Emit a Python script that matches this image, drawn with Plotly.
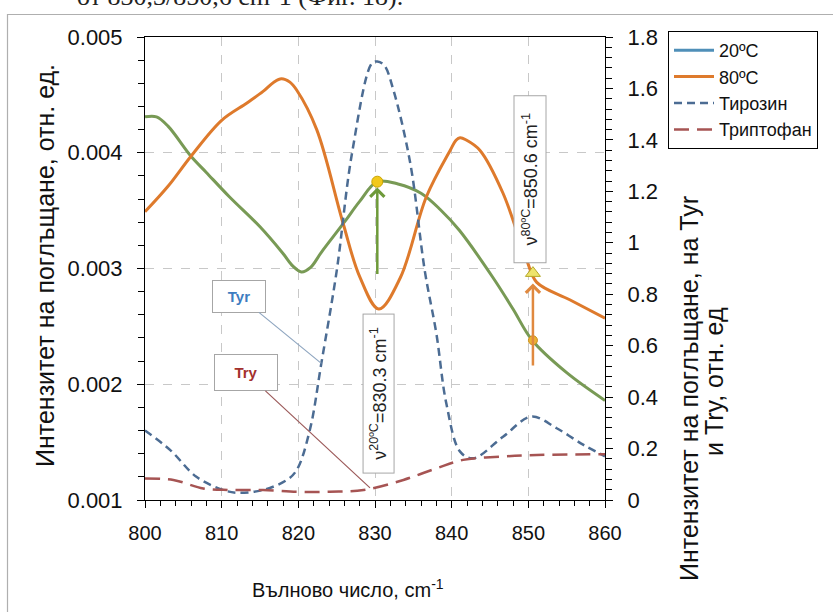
import plotly.graph_objects as go

# ---------------- data ----------------
wn_20 = [800, 801.5, 803, 806, 808, 811, 815, 818, 819.3, 820.4, 821.6, 823, 826, 828, 830.3, 833, 836, 838.5, 841, 845.4, 848, 850.5, 855, 860]
abs_20 = [0.00431, 0.00431, 0.00423, 0.00397, 0.00383, 0.00362, 0.00336, 0.00313, 0.00302, 0.00297, 0.00301, 0.00314, 0.00340, 0.00358, 0.00375, 0.00373, 0.00365, 0.00351, 0.00333, 0.00292, 0.00265, 0.00238, 0.00210, 0.00186]

wn_80 = [800, 803, 806, 810, 813.3, 815.4, 816.8, 817.8, 818.9, 819.8, 822.4, 825.8, 828, 830.5, 833.3, 836.7, 839.8, 840.6, 841.1, 841.9, 843.7, 846.7, 849.8, 851.1, 855.4, 860]
abs_80 = [0.00349, 0.00371, 0.00397, 0.00428, 0.00443, 0.00453, 0.00461, 0.00464, 0.00461, 0.00454, 0.00420, 0.00340, 0.00293, 0.00265, 0.00292, 0.00362, 0.00402, 0.00411, 0.00413, 0.00411, 0.00402, 0.00365, 0.00307, 0.00288, 0.00273, 0.00257]

wn_tyr = [800, 803.3, 806.7, 810.2, 812, 815.4, 818.5, 819.8, 821.5, 823, 825, 827, 829.6, 830.3, 831.2, 832.4, 834.6, 836.5, 838, 839.3, 841.1, 842.8, 846.7, 850.4, 853.7, 857.2, 860]
abs_tyr = [0.27, 0.194, 0.09, 0.039, 0.028, 0.039, 0.078, 0.117, 0.272, 0.531, 0.89, 1.348, 1.698, 1.705, 1.69, 1.594, 1.309, 0.89, 0.648, 0.376, 0.188, 0.162, 0.246, 0.324, 0.279, 0.214, 0.17]

wn_try = [800, 803.7, 807.6, 811, 815.4, 819.8, 824.1, 828.5, 833.7, 838, 841.5, 846.7, 851.1, 860]
abs_try = [0.084, 0.078, 0.045, 0.039, 0.039, 0.032, 0.032, 0.039, 0.078, 0.123, 0.156, 0.169, 0.175, 0.178]

peak20_wn = [830.3]
peak20_abs = [0.00375]
peak80_wn = [850.6]
peak80_abs = [0.00296]
green80_abs = [0.00238]

arrow20 = [0.00294, 0.00370]   # tail, tip
arrow80 = [0.00215, 0.00287]

label20_pos = [830.4, 0.00192]
label80_pos = [850.2, 0.00377]
tyr_tip = [823.0, 0.531]
try_tip = [829.35, 0.047]

series_names = ["20ºC", "80ºC", "Тирозин", "Триптофан"]

# ---------------- styles ----------------
C_GREEN = "#789A55"
C_ORANGE = "#DE7A2C"
C_BLUE = "#4C6C93"
C_RED = "#A65453"
C_LEG20 = "#4F8FB8"
FONT = "Liberation Sans, Arial, sans-serif"

W, H = 833, 612
L, R, T, B = 145, 228, 37, 112
PW, PH = W - L - R, H - T - B


def px(xp):
    return (xp - L) / PW


def py(yp):
    return (H - B - yp) / PH


fig = go.Figure()

fig.add_trace(go.Scatter(x=wn_20, y=abs_20, mode="lines", line=dict(color=C_GREEN, width=3, shape="spline"),
                         showlegend=False, yaxis="y"))
fig.add_trace(go.Scatter(x=[None], y=[None], mode="lines", line=dict(color=C_LEG20, width=3),
                         name=series_names[0], legendrank=1))
fig.add_trace(go.Scatter(x=wn_80, y=abs_80, mode="lines", line=dict(color=C_ORANGE, width=3, shape="spline"),
                         name=series_names[1], legendrank=2, yaxis="y"))
fig.add_trace(go.Scatter(x=wn_tyr, y=abs_tyr, mode="lines",
                         line=dict(color=C_BLUE, width=2.5, dash="8px,5px", shape="spline"),
                         name=series_names[2], legendrank=3, yaxis="y2"))
fig.add_trace(go.Scatter(x=wn_try, y=abs_try, mode="lines",
                         line=dict(color=C_RED, width=2.5, dash="15px,8px", shape="spline"),
                         name=series_names[3], legendrank=4, yaxis="y2"))

# markers
fig.add_trace(go.Scatter(x=peak20_wn, y=peak20_abs, mode="markers", showlegend=False,
                         marker=dict(color="#F2C81A", size=11, line=dict(color="#C9A400", width=1))))
fig.add_trace(go.Scatter(x=peak80_wn, y=green80_abs, mode="markers", showlegend=False,
                         marker=dict(color="#EBB233", size=9, line=dict(color="#C98F1A", width=1))))
fig.add_trace(go.Scatter(x=peak80_wn, y=peak80_abs, mode="markers", showlegend=False,
                         marker=dict(symbol="triangle-up", color="#EEE46C", size=13,
                                     line=dict(color="#B5A828", width=1))))

annotations = []
# vertical arrows
annotations.append(dict(xref="x", yref="y", axref="x", ayref="y", x=peak20_wn[0], y=arrow20[1],
                        ax=peak20_wn[0], ay=arrow20[0], text="", showarrow=True, arrowhead=4,
                        arrowsize=1.1, arrowwidth=2.5, arrowcolor="#6E9A3A"))
annotations.append(dict(xref="x", yref="y", axref="x", ayref="y", x=peak80_wn[0], y=arrow80[1],
                        ax=peak80_wn[0], ay=arrow80[0], text="", showarrow=True, arrowhead=4,
                        arrowsize=1.1, arrowwidth=2.5, arrowcolor="#E0893F"))
# rotated labels
annotations.append(dict(xref="x", yref="y", x=label20_pos[0], y=label20_pos[1],
                        text="ν<sup>20ºC</sup>=830.3 cm<sup>-1</sup>", textangle=-90, showarrow=False,
                        font=dict(family=FONT, size=18, color="#222"), bgcolor="white",
                        bordercolor="#A6A6A6", borderwidth=1, width=156, height=28))
annotations.append(dict(xref="x", yref="y", x=label80_pos[0], y=label80_pos[1],
                        text="ν<sup>80ºC</sup>=850.6 cm<sup>-1</sup>", textangle=-90, showarrow=False,
                        font=dict(family=FONT, size=18, color="#222"), bgcolor="white",
                        bordercolor="#A6A6A6", borderwidth=1, width=164, height=29))
# callouts
annotations.append(dict(xref="x", yref="y2", x=tyr_tip[0], y=tyr_tip[1], ax=-82, ay=-67,
                        text="<b>Tyr</b>", showarrow=True, arrowhead=0, arrowwidth=1.2,
                        arrowcolor="#8FA6C0", font=dict(family=FONT, size=15, color="#3E7CC0"),
                        bgcolor="white", bordercolor="#A6A6A6", borderwidth=1, width=50, height=29))
annotations.append(dict(xref="x", yref="y2", x=try_tip[0], y=try_tip[1], ax=-124, ay=-115,
                        text="<b>Try</b>", showarrow=True, arrowhead=0, arrowwidth=1.2,
                        arrowcolor="#9C5A5A", font=dict(family=FONT, size=15, color="#A3302D"),
                        bgcolor="white", bordercolor="#A6A6A6", borderwidth=1, width=60, height=33))
# axis titles
annotations.append(dict(xref="paper", yref="paper", x=px(45), y=py(266), xanchor="center", yanchor="middle",
                        text="Интензитет на поглъщане, отн. ед.", textangle=-90, showarrow=False,
                        font=dict(family=FONT, size=25, color="#111")))
annotations.append(dict(xref="paper", yref="paper", x=px(348), y=py(588), xanchor="center", yanchor="middle",
                        text="Вълново число, cm<sup>-1</sup>", showarrow=False,
                        font=dict(family=FONT, size=20, color="#111")))
annotations.append(dict(xref="paper", yref="paper", x=px(689), y=py(389), xanchor="center", yanchor="middle",
                        text="Интензитет на поглъщане, на Tyr", textangle=-90,
                        showarrow=False, font=dict(family=FONT, size=25, color="#111")))
annotations.append(dict(xref="paper", yref="paper", x=px(714), y=py(382), xanchor="center", yanchor="middle",
                        text="и Try, отн. ед", textangle=-90,
                        showarrow=False, font=dict(family=FONT, size=25, color="#111")))
# cropped document text above the chart
annotations.append(dict(xref="paper", yref="paper", x=px(405), y=py(13), xanchor="right",
                        yanchor="bottom", text="от 830,3/850,6 cm-1 (Фиг. 18).", showarrow=False,
                        font=dict(family="Liberation Serif, serif", size=26, color="#222")))

shapes = [dict(type="rect", xref="paper", yref="paper", x0=px(7.5), y0=py(640), x1=px(860), y1=py(14.5),
               line=dict(color="#AFAFAF", width=1.2), layer="below")]

axis_common = dict(showline=True, linecolor="black", linewidth=1, ticks="outside", tickcolor="black",
                   ticklen=7, zeroline=False, tickfont=dict(family=FONT, size=22, color="#111"))

fig.update_layout(
    width=W, height=H, autosize=False,
    margin=dict(l=L, r=R, t=T, b=B),
    paper_bgcolor="white", plot_bgcolor="white",
    font=dict(family=FONT, color="#111"),
    xaxis=dict(range=[800, 860], tick0=800, dtick=10, mirror=True,
               showgrid=True, gridcolor="#C8C8C8", griddash="dash", gridwidth=1,
               minor=dict(dtick=2, ticks="outside", ticklen=5, tickcolor="black"),
               ticklabelstandoff=8,
               **{**axis_common, "tickfont": dict(family=FONT, size=20, color="#111")}),
    yaxis=dict(range=[0.001, 0.005], tick0=0.001, dtick=0.001, tickformat=".3f",
               showgrid=True, gridcolor="#C8C8C8", griddash="dash", gridwidth=1,
               minor=dict(dtick=0.0002, ticks="outside", ticklen=6, tickcolor="black"),
               ticklabelstandoff=10, **axis_common),
    yaxis2=dict(range=[0, 1.8], tick0=0, dtick=0.2, overlaying="y", side="right", showgrid=False,
                minor=dict(dtick=0.04, ticks="outside", ticklen=6, tickcolor="black"),
                ticklabelstandoff=10, **axis_common),
    legend=dict(x=px(668), y=py(31), xanchor="left", yanchor="top", bgcolor="white",
                bordercolor="black", borderwidth=1, font=dict(family=FONT, size=18, color="#111"),
                tracegroupgap=0, itemwidth=40),
    annotations=annotations,
    shapes=shapes,
)

fig.write_html("out.html")
